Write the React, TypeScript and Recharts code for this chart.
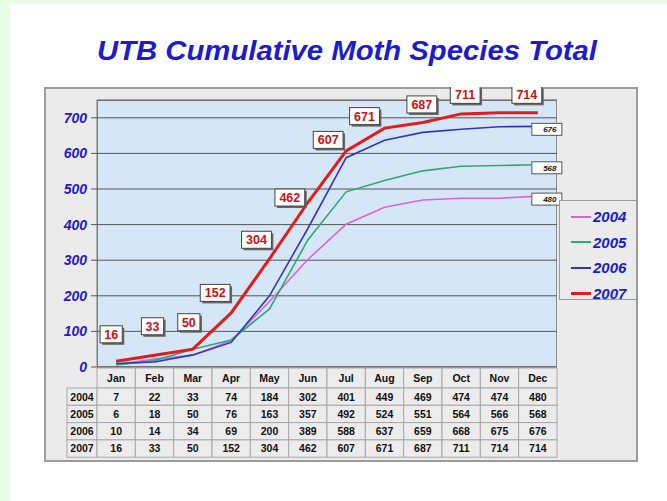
import React from "react";
import { CartesianGrid, Legend, Line, LineChart, XAxis, YAxis } from "recharts";

// cumulative species totals
const months = ["Jan", "Feb", "Mar", "Apr", "May", "Jun", "Jul", "Aug", "Sep", "Oct", "Nov", "Dec"];
const years = ["2004", "2005", "2006", "2007"];
const total2004 = [7, 22, 33, 74, 184, 302, 401, 449, 469, 474, 474, 480];
const total2005 = [6, 18, 50, 76, 163, 357, 492, 524, 551, 564, 566, 568];
const total2006 = [10, 14, 34, 69, 200, 389, 588, 637, 659, 668, 675, 676];
const total2007 = [16, 33, 50, 152, 304, 462, 607, 671, 687, 711, 714, 714];
const yTicks = [0, 100, 200, 300, 400, 500, 600, 700];

const tableRows = [total2004, total2005, total2006, total2007];
const chartData = months.map((month, i) => ({
  month,
  "2004": total2004[i],
  "2005": total2005[i],
  "2006": total2006[i],
  "2007": total2007[i],
}));

const lineColors: Record<string, string> = {
  "2004": "#dc62dc",
  "2005": "#30a874",
  "2006": "#3434c2",
  "2007": "#e21c1c",
};
const BLUE = "#1c1ccc";
const FONT = "'Liberation Sans', Arial, sans-serif";

const FRAME_W = 594;
const FRAME_H = 375;
const PLOT_LEFT = 53;
const PLOT_TOP = 13;
const PLOT_W = 460;
const PLOT_H = 267;
const CELL_W = PLOT_W / 12;
const HEAD_H = 20;
const ROW_H = 17.3;
const LABEL_W = 30;

// where each 2007 tag sits relative to its point (Nov has none)
const tagNudge: (number[] | null)[] = [
  [-5, -27], [-2, -29], [-4, -27], [-16, -20], [-13, -19], [-18, -5],
  [-18, -11], [-20, -12], [-1, -18], [4, -19], null, [-11, -18],
];

function RedTag(props: any) {
  const { x, y, value, index } = props;
  const n = tagNudge[index];
  if (!n || x == null) return null;
  const w = String(value).length * 7.6 + 7;
  const cx = x + n[0];
  const cy = y + n[1];
  return (
    <g>
      <rect x={cx - w / 2 + 2} y={cy - 8.5 + 2} width={w} height={17} fill="#666" />
      <rect x={cx - w / 2} y={cy - 8.5} width={w} height={17} fill="#fff" stroke="#444" strokeWidth={1} />
      <text x={cx} y={cy + 4.5} textAnchor="middle" fontSize={12.5} fontWeight="bold" fill="#cc1111" fontFamily={FONT}>
        {value}
      </text>
    </g>
  );
}

function EndTag(props: any) {
  const { x, y, value, index } = props;
  if (index !== months.length - 1 || x == null) return null;
  return (
    <g>
      <rect x={x - 6} y={y - 3} width={30} height={12} fill="#fff" stroke="#555" strokeWidth={1} />
      <text x={x + 12} y={y + 6} textAnchor="middle" fontSize={8} fontWeight="bold" fontStyle="italic" fill="#111" fontFamily={FONT}>
        {value}
      </text>
    </g>
  );
}

function TableTick(props: any) {
  const { x, y, payload } = props;
  const idx = months.indexOf(payload.value);
  const left = x - CELL_W / 2;
  const top = y + 1;
  return (
    <g fontFamily={FONT} fontWeight="bold" fontSize={10.5}>
      <rect x={left} y={top} width={CELL_W} height={HEAD_H} fill="#ececec" stroke="#a8a8a8" />
      <text x={x} y={top + 14} textAnchor="middle" fill="#111">{payload.value}</text>
      {tableRows.map((row, r) => {
        const ry = top + HEAD_H + r * ROW_H;
        return (
          <g key={r}>
            {idx === 0 && (
              <>
                <rect x={left - LABEL_W} y={ry} width={LABEL_W} height={ROW_H} fill="#ececec" stroke="#a8a8a8" />
                <text x={left - LABEL_W / 2} y={ry + 12.5} textAnchor="middle" fill="#111">{years[r]}</text>
              </>
            )}
            <rect x={left} y={ry} width={CELL_W} height={ROW_H} fill="#ececec" stroke="#a8a8a8" />
            <text x={x} y={ry + 12.5} textAnchor="middle" fill="#111">{row[idx]}</text>
          </g>
        );
      })}
    </g>
  );
}

function LegendBox(props: any) {
  const items = [...(props.payload || [])].sort((a: any, b: any) => String(a.value).localeCompare(String(b.value)));
  return (
    <div
      style={{
        width: 78,
        height: 100,
        boxSizing: "border-box",
        background: "#ebebeb",
        border: "1px solid #9a9a9a",
        paddingTop: 3,
      }}
    >
      {items.map((it: any) => (
        <div key={it.value} style={{ height: 25.6, display: "flex", alignItems: "center" }}>
          <div style={{ marginLeft: 11, width: 20, height: it.value === "2007" ? 3 : 2, background: lineColors[it.value] }} />
          <span style={{ marginLeft: 2, color: BLUE, fontFamily: FONT, fontSize: 15, fontWeight: "bold", fontStyle: "italic" }}>
            {it.value}
          </span>
        </div>
      ))}
    </div>
  );
}

export default function App() {
  return (
    <div style={{ position: "absolute", left: 0, top: 0, width: 667, height: 501, background: "#e6fde6", overflow: "hidden" }}>
      <div style={{ position: "absolute", left: 10, top: 4, width: 657, height: 497, background: "#fff" }} />
      <svg style={{ position: "absolute", left: 0, top: 0 }} width={667} height={80}>
        <text
          x={347}
          y={60}
          textAnchor="middle"
          fontSize={28}
          fontWeight="bold"
          fontStyle="italic"
          fill={BLUE}
          fontFamily={FONT}
          textLength={500}
          lengthAdjust="spacingAndGlyphs"
        >
          UTB Cumulative Moth Species Total
        </text>
      </svg>
      <div
        style={{
          position: "absolute",
          left: 44,
          top: 87,
          width: FRAME_W,
          height: FRAME_H,
          background: "#ebebeb",
          outline: "2px solid #9c9c9c",
          outlineOffset: -2,
        }}
      >
        <div
          style={{
            position: "absolute",
            left: PLOT_LEFT,
            top: PLOT_TOP,
            width: PLOT_W,
            height: PLOT_H,
            boxSizing: "border-box",
            background: "#d5e7f7",
            border: "1px solid #8c8c8c",
          }}
        />
        <LineChart
          width={FRAME_W}
          height={FRAME_H}
          data={chartData}
          margin={{ top: PLOT_TOP, right: FRAME_W - PLOT_LEFT - PLOT_W, bottom: 0, left: 0 }}
        >
          <CartesianGrid vertical={false} stroke="#555" strokeWidth={1} />
          <XAxis
            dataKey="month"
            height={FRAME_H - PLOT_TOP - PLOT_H}
            padding={{ left: CELL_W / 2, right: CELL_W / 2 }}
            tickLine={false}
            tickSize={0}
            tickMargin={0}
            axisLine={{ stroke: "#777" }}
            tick={<TableTick />}
            interval={0}
          />
          <YAxis
            width={PLOT_LEFT}
            domain={[0, 750]}
            ticks={yTicks}
            tickSize={6}
            tickMargin={4}
            axisLine={{ stroke: "#777" }}
            tickLine={{ stroke: "#555" }}
            tick={{ fill: BLUE, fontSize: 14, fontWeight: "bold", fontStyle: "italic", fontFamily: FONT }}
          />
          <Legend
            layout="horizontal"
            verticalAlign="middle"
            align="center"
            wrapperStyle={{ left: 515, top: 113, width: 78, height: 100, right: "auto", bottom: "auto" }}
            content={<LegendBox />}
          />
          <Line type="linear" dataKey="2004" name="2004" stroke={lineColors["2004"]} strokeWidth={1.6} dot={false} isAnimationActive={false} label={<EndTag />} />
          <Line type="linear" dataKey="2005" name="2005" stroke={lineColors["2005"]} strokeWidth={1.6} dot={false} isAnimationActive={false} label={<EndTag />} />
          <Line type="linear" dataKey="2006" name="2006" stroke={lineColors["2006"]} strokeWidth={1.6} dot={false} isAnimationActive={false} label={<EndTag />} />
          <Line type="linear" dataKey="2007" name="2007" stroke={lineColors["2007"]} strokeWidth={3} dot={false} isAnimationActive={false} label={<RedTag />} />
        </LineChart>
      </div>
    </div>
  );
}
